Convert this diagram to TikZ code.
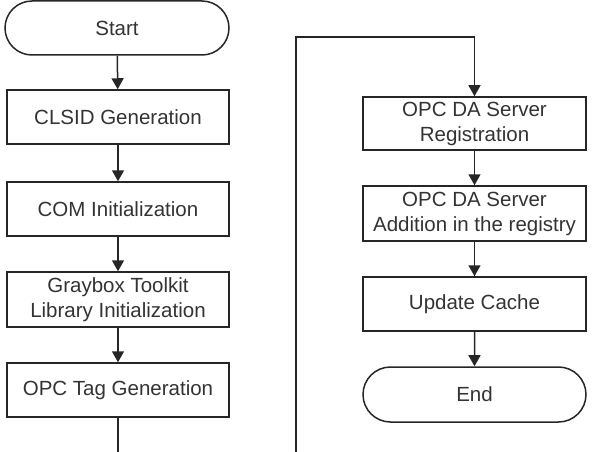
\documentclass[tikz,border=0pt]{standalone}
\usepackage{fontspec}
\setmainfont{Liberation Sans}
\usetikzlibrary{arrows.meta,shapes.misc}
\tikzset{
  proc/.style={draw=black!85, line width=1.5pt, rectangle, minimum width=222pt, minimum height=54pt, inner sep=0pt, align=center, text=black!80, font=\fontsize{20.5}{25}\selectfont},
  term/.style={proc, rounded rectangle},
  flow/.style={draw=black!85, line width=1.5pt, -{Triangle[width=12pt,length=11pt]}},
  plain/.style={draw=black!85, line width=1.5pt}
}
\begin{document}
\begin{tikzpicture}[x=1pt,y=1pt]
\useasboundingbox (0,0) rectangle (592,-452);
\node[term, minimum width=224pt] (start) at (117,-28) {Start};
\node[proc] (clsid) at (118,-117) {CLSID Generation};
\node[proc] (com) at (118,-209) {COM Initialization};
\node[proc, minimum height=55pt] (gray) at (118,-299.5) {Graybox Toolkit\\Library Initialization};
\node[proc] (tag) at (118,-390) {OPC Tag Generation};
\node[proc, minimum width=223pt, minimum height=53pt] (reg) at (474.5,-123.5) {OPC DA Server\\Registration};
\node[proc, minimum width=223pt, minimum height=55pt] (add) at (474.5,-213.5) {OPC DA Server\\Addition in the registry};
\node[proc, minimum width=223pt] (upd) at (474.5,-304) {Update Cache};
\node[term, minimum width=223pt, minimum height=55pt] (end) at (474.5,-394.5) {End};
\coordinate (lout) at (118,-452);
\coordinate (rin) at (296,-452);
\coordinate (rtop) at (296,-37);
\draw[flow] (start) -- (clsid);
\draw[flow] (clsid) -- (com);
\draw[flow] (com) -- (gray);
\draw[flow] (gray) -- (tag);
\draw[plain] (tag) -- (lout);
\draw[flow] (rin) -- (rtop) -| (reg.north);
\draw[flow] (reg) -- (add);
\draw[flow] (add) -- (upd);
\draw[flow] (upd) -- (end);
\end{tikzpicture}
\end{document}
